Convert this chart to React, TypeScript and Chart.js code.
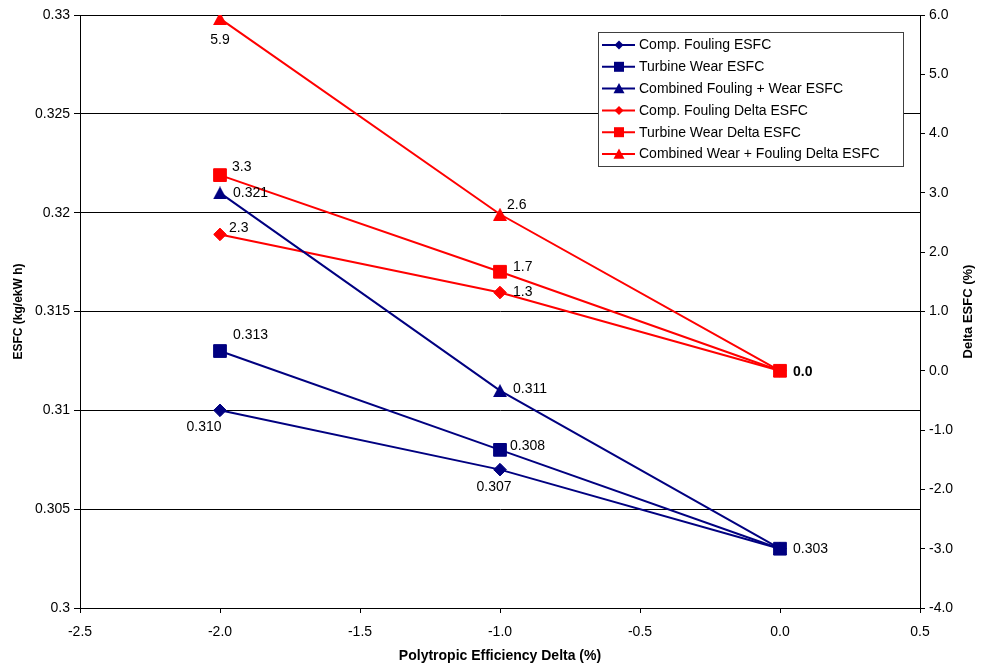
import React, { useEffect, useRef } from 'react';
import { Chart, registerables } from 'chart.js';

Chart.register(...registerables);

// ---- data ----
const xValues = [-2.0, -1.0, 0.0];
const compFoulingEsfc = [0.31, 0.307, 0.303];
const turbineWearEsfc = [0.313, 0.308, 0.303];
const combinedEsfc = [0.321, 0.311, 0.303];
const compFoulingDelta = [2.3, 1.32, 0.0];
const turbineWearDelta = [3.3, 1.67, 0.0];
const combinedDelta = [5.94, 2.64, 0.0];

const seriesNames = [
  'Comp. Fouling ESFC',
  'Turbine Wear ESFC',
  'Combined Fouling + Wear ESFC',
  'Comp. Fouling Delta ESFC',
  'Turbine Wear Delta ESFC',
  'Combined Wear + Fouling Delta ESFC',
];

const xTicks = [-2.5, -2.0, -1.5, -1.0, -0.5, 0.0, 0.5];
const leftTicks = [0.3, 0.305, 0.31, 0.315, 0.32, 0.325, 0.33];
const rightTicks = [-4, -3, -2, -1, 0, 1, 2, 3, 4, 5, 6];

const xTitle = 'Polytropic Efficiency Delta (%)';
const leftTitle = 'ESFC (kg/ekW h)';
const rightTitle = 'Delta ESFC (%)';

// ---- styles ----
const NAVY = '#000080';
const RED = '#FF0000';
const FONT = '"Liberation Sans", Arial, sans-serif';
const seriesValues = [compFoulingEsfc, turbineWearEsfc, combinedEsfc, compFoulingDelta, turbineWearDelta, combinedDelta];
const seriesColors = [NAVY, NAVY, NAVY, RED, RED, RED];
const seriesAxes = ['y', 'y', 'y', 'y1', 'y1', 'y1'];
const seriesDecimals = [3, 3, 3, 1, 1, 1];
const markerStyles = ['rectRot', 'rect', 'triangle', 'rectRot', 'rect', 'triangle'];
const markerRadius: Record<string, number> = { rectRot: 6.3, rect: 9, triangle: 7 };
const drawOrder = [1, 0, 1, 1, 0, 1];

// label placement relative to the point: [dx, dy, align, bold, show]
const labelPlacement: [number, number, CanvasTextAlign, boolean, boolean][][] = [
  [[-16, 17, 'center', false, true], [-6, 18, 'center', false, true], [13, 0, 'left', false, false]],
  [[13, -16, 'left', false, true], [10, -4, 'left', false, true], [13, 0, 'left', false, true]],
  [[13, 0, 'left', false, true], [13, -1, 'left', false, true], [13, 0, 'left', false, false]],
  [[9, -6, 'left', false, true], [13, 0, 'left', false, true], [13, 1, 'left', true, false]],
  [[12, -8, 'left', false, true], [13, -5, 'left', false, true], [13, 1, 'left', true, true]],
  [[0, 22, 'center', false, true], [7, -9, 'left', false, true], [13, 1, 'left', true, false]],
];

function drawMarker(ctx: CanvasRenderingContext2D, style: string, x: number, y: number, r: number, color: string) {
  ctx.fillStyle = color;
  ctx.beginPath();
  if (style === 'rectRot') {
    ctx.moveTo(x, y - r);
    ctx.lineTo(x + r, y);
    ctx.lineTo(x, y + r);
    ctx.lineTo(x - r, y);
    ctx.closePath();
  } else if (style === 'rect') {
    ctx.rect(x - r, y - r, 2 * r, 2 * r);
  } else {
    ctx.moveTo(x, y - r);
    ctx.lineTo(x + r, y + r * 0.85);
    ctx.lineTo(x - r, y + r * 0.85);
    ctx.closePath();
  }
  ctx.fill();
}

// triangle marker image whose bounding box is centred on the point
function triangleImage(color: string) {
  const c = document.createElement('canvas');
  c.width = 14;
  c.height = 13;
  const g = c.getContext('2d')!;
  g.fillStyle = color;
  g.beginPath();
  g.moveTo(7, 0);
  g.lineTo(14, 13);
  g.lineTo(0, 13);
  g.closePath();
  g.fill();
  return c;
}

const labelsPlugin = {
  id: 'pointLabels',
  afterDatasetsDraw(chart: any) {
    const ctx: CanvasRenderingContext2D = chart.ctx;
    ctx.save();
    ctx.fillStyle = '#000';
    ctx.textBaseline = 'middle';
    chart.data.datasets.forEach((ds: any, i: number) => {
      const meta = chart.getDatasetMeta(i);
      meta.data.forEach((pt: any, j: number) => {
        const [dx, dy, align, bold, show] = labelPlacement[i][j];
        if (!show) return;
        ctx.font = `${bold ? 'bold ' : ''}14px ${FONT}`;
        ctx.textAlign = align;
        const v = seriesValues[i][j];
        ctx.fillText(v.toFixed(seriesDecimals[i]), pt.x + dx, pt.y + dy);
      });
    });
    ctx.restore();
  },
};

const boxLegendPlugin = {
  id: 'boxLegend',
  afterDraw(chart: any) {
    const ctx: CanvasRenderingContext2D = chart.ctx;
    const area = chart.chartArea;
    const w = 305;
    const h = 134;
    const x0 = area.right - 17 - w;
    const y0 = area.top + 17;
    ctx.save();
    ctx.fillStyle = '#fff';
    ctx.fillRect(x0, y0, w, h);
    ctx.strokeStyle = '#404040';
    ctx.lineWidth = 1;
    ctx.strokeRect(x0 + 0.5, y0 + 0.5, w, h);
    ctx.font = `14px ${FONT}`;
    ctx.textBaseline = 'middle';
    ctx.textAlign = 'left';
    seriesNames.forEach((name, i) => {
      const y = y0 + 13 + i * 21.8;
      ctx.strokeStyle = seriesColors[i];
      ctx.lineWidth = 2;
      ctx.beginPath();
      ctx.moveTo(x0 + 4, y);
      ctx.lineTo(x0 + 37, y);
      ctx.stroke();
      const st = markerStyles[i];
      drawMarker(ctx, st, x0 + 21, y, st === 'rect' ? 5 : st === 'triangle' ? 5.5 : 4.5, seriesColors[i]);
      ctx.fillStyle = '#000';
      ctx.fillText(name, x0 + 41, y + 0.5);
    });
    // right axis title (reads bottom to top)
    const yScale = chart.scales.y1;
    ctx.save();
    ctx.translate(968, (yScale.top + yScale.bottom) / 2);
    ctx.rotate(-Math.PI / 2);
    ctx.font = `bold 13px ${FONT}`;
    ctx.textAlign = 'center';
    ctx.textBaseline = 'middle';
    ctx.fillStyle = '#000';
    ctx.fillText(rightTitle, 0, 0);
    ctx.restore();
    ctx.restore();
  },
};

export default function App() {
  const canvasRef = useRef<HTMLCanvasElement | null>(null);

  useEffect(() => {
    const canvas = canvasRef.current;
    if (!canvas) return;
    const datasets = seriesNames.map((name, i) => {
      const st = markerStyles[i];
      return {
        label: name,
        data: xValues.map((x, j) => ({ x, y: seriesValues[i][j] })),
        yAxisID: seriesAxes[i],
        order: drawOrder[i],
        showLine: true,
        borderColor: seriesColors[i],
        backgroundColor: seriesColors[i],
        borderWidth: 2,
        pointStyle: st === 'triangle' ? triangleImage(seriesColors[i]) : st,
        pointRadius: markerRadius[st],
        pointHoverRadius: markerRadius[st],
        pointBorderWidth: 1,
        pointBorderColor: seriesColors[i],
        pointBackgroundColor: seriesColors[i],
        tension: 0,
      };
    });

    const tickFont = { family: FONT, size: 14 };
    const chart = new Chart(canvas, {
      type: 'scatter',
      data: { datasets },
      options: {
        animation: false,
        responsive: false,
        maintainAspectRatio: false,
        layout: { padding: { top: 15, left: 0, right: 0, bottom: 0 } },
        plugins: { legend: { display: false }, tooltip: { enabled: false } },
        scales: {
          x: {
            type: 'linear',
            position: 'bottom',
            min: xTicks[0],
            max: xTicks[xTicks.length - 1],
            afterBuildTicks: (s: any) => { s.ticks = xTicks.map((v) => ({ value: v })); },
            afterFit: (s: any) => { s.height = 58; },
            ticks: { font: tickFont, color: '#000', padding: 11, maxRotation: 0, callback: (v: any) => Number(v).toFixed(1) },
            grid: { drawOnChartArea: false, drawTicks: true, tickLength: 5, color: '#000' },
            border: { display: true, color: '#000', width: 1 },
            title: { display: true, text: xTitle, color: '#000', font: { family: FONT, size: 14, weight: 'bold' }, padding: { top: 0, bottom: 1 } },
          },
          y: {
            type: 'linear',
            position: 'left',
            min: leftTicks[0],
            max: leftTicks[leftTicks.length - 1],
            afterBuildTicks: (s: any) => { s.ticks = leftTicks.map((v) => ({ value: v })); },
            afterFit: (s: any) => { s.width = 80; },
            ticks: { font: tickFont, color: '#000', padding: 4, callback: (v: any) => String(Number(Number(v).toFixed(3))) },
            grid: { drawOnChartArea: true, drawTicks: true, tickLength: 6, color: '#000', lineWidth: 1 },
            border: { display: true, color: '#000', width: 1 },
            title: { display: true, text: leftTitle, color: '#000', font: { family: FONT, size: 12, weight: 'bold' }, padding: { top: 11, bottom: 0 } },
          },
          y1: {
            type: 'linear',
            position: 'right',
            min: rightTicks[0],
            max: rightTicks[rightTicks.length - 1],
            afterBuildTicks: (s: any) => { s.ticks = rightTicks.map((v) => ({ value: v })); },
            afterFit: (s: any) => { s.width = 62; },
            ticks: { font: tickFont, color: '#000', padding: 4, callback: (v: any) => Number(v).toFixed(1) },
            grid: { drawOnChartArea: false, drawTicks: true, tickLength: 5, color: '#000' },
            border: { display: true, color: '#000', width: 1 },
            title: { display: false },
          },
        },
      },
      plugins: [labelsPlugin, boxLegendPlugin],
    } as any);
    return () => chart.destroy();
  }, []);

  return (
    <div style={{ position: 'absolute', left: 0, top: 0, width: 982, height: 666, background: '#fff' }}>
      <canvas ref={canvasRef} width={982} height={666} style={{ display: 'block', width: 982, height: 666 }} />
    </div>
  );
}
